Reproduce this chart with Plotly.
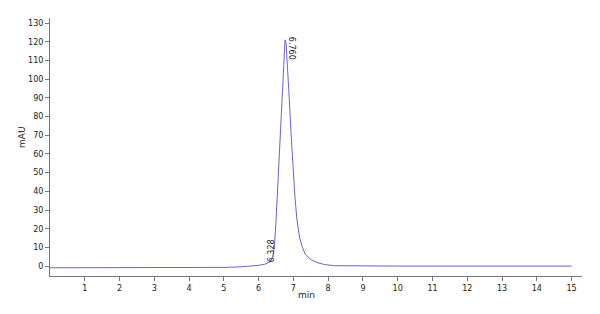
import plotly.graph_objects as go

# Chromatogram trace (time in min, absorbance in mAU)
time_min = [0.0, 2.0, 4.0, 5.0, 5.5, 5.8, 6.0, 6.2, 6.328, 6.40, 6.45, 6.50, 6.55, 6.60,
            6.65, 6.70, 6.73, 6.76, 6.79, 6.83, 6.88, 6.93, 6.98, 7.04, 7.10, 7.18,
            7.26, 7.35, 7.50, 7.70, 7.90, 8.20, 10.0, 12.0, 15.0]
signal_mau = [-0.9, -0.9, -0.85, -0.7, -0.4, 0.0, 0.4, 1.1, 2.3, 4.5, 10.0, 24.0, 42.0, 62.0,
              82.0, 100.0, 114.0, 121.0, 119.0, 108.0, 90.0, 72.0, 55.0, 38.0, 25.0, 15.0,
              10.0, 6.0, 3.5, 1.8, 0.8, 0.2, 0.0, 0.0, 0.0]

peak_times = [6.760, 6.328]
peak_labels = ["6.760", "6.328"]

x_ticks = list(range(1, 16))
y_ticks = list(range(0, 131, 10))

fig = go.Figure()
fig.add_trace(go.Scatter(x=time_min, y=signal_mau, mode="lines",
                         line=dict(color="#6b63d6", width=1), hoverinfo="skip"))

font = dict(family="DejaVu Sans", size=8, color="#222222")

# peak labels
fig.add_annotation(x=peak_times[0], y=121, text=peak_labels[0], textangle=90, showarrow=False,
                   xanchor="left", yanchor="top", xshift=0, yshift=5, font=font)
fig.add_annotation(x=peak_times[1], y=2.3, text=peak_labels[1], textangle=-90, showarrow=False,
                   xanchor="center", yanchor="bottom", xshift=1, yshift=-3, font=font)
# axis titles
fig.add_annotation(x=7.37, y=-0.045, xref="x", yref="paper", text="min", showarrow=False,
                   xanchor="center", yanchor="top", font=dict(family="DejaVu Sans", size=9, color="#222222"))
fig.add_annotation(x=-0.0526, y=0.539, xref="paper", yref="paper", text="mAU", textangle=-90,
                   showarrow=False, xanchor="center", yanchor="middle",
                   font=dict(family="DejaVu Sans", size=9, color="#222222"))

fig.update_layout(
    width=600, height=314,
    margin=dict(l=50, r=18, t=18, b=38),
    plot_bgcolor="white", paper_bgcolor="white",
    showlegend=False,
    font=font,
)
fig.update_xaxes(range=[0, 15.3], tickvals=x_ticks, ticktext=[str(v) for v in x_ticks],
                 showgrid=False, zeroline=False, showline=True, linecolor="#777777", linewidth=1,
                 ticks="outside", ticklen=4, tickcolor="#777777", tickfont=font)
fig.update_yaxes(range=[-5.3, 132.7], tickvals=y_ticks, ticktext=[str(v) for v in y_ticks],
                 showgrid=False, zeroline=False, showline=True, linecolor="#777777", linewidth=1,
                 ticks="outside", ticklen=4, tickcolor="#777777", tickfont=font)

fig.write_html("out.html")
